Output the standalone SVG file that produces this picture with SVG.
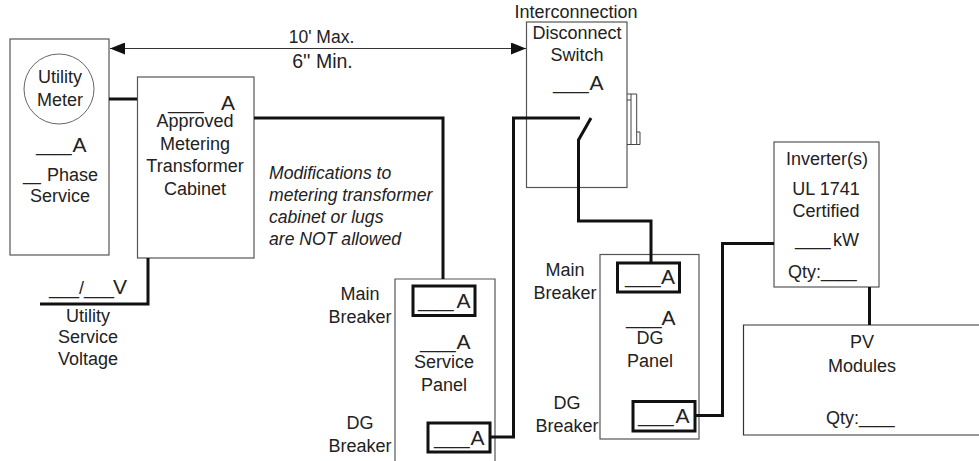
<svg xmlns="http://www.w3.org/2000/svg" width="979" height="461" viewBox="0 0 979 461">
<style>
text{font-family:"Liberation Sans",Arial,sans-serif;font-size:18px;fill:#222;text-anchor:middle}
.l{text-anchor:start}
.a{font-size:21px}
.u{font-size:16px}
.i{font-style:italic;font-size:17.6px;text-anchor:start}
.box{fill:#fff;stroke:#555;stroke-width:1.2}
.brk{fill:none;stroke:#111;stroke-width:3}
.wire{fill:none;stroke:#111;stroke-width:3}
.thin{fill:none;stroke:#444;stroke-width:1}
</style>
<defs>
<marker id="ah" markerWidth="15" markerHeight="12" refX="15" refY="6" orient="auto-start-reverse" markerUnits="userSpaceOnUse"><path d="M0 0L15 6L0 12Z" fill="#111"/></marker>
</defs>
<g id="utility-meter-box">
<rect class="box" x="10" y="39" width="99" height="216"/>
<circle cx="59" cy="89" r="35" fill="#fff" stroke="#666" stroke-width="1"/>
<text x="60" y="83">Utility</text>
<text x="60" y="106">Meter</text>
<text class="l" x="36" y="152"><tspan class="u">____</tspan><tspan class="a" x="72.500">A</tspan></text>
<text class="l" x="23" y="181"><tspan class="u">__</tspan><tspan x="47">Phase</tspan></text>
<text x="60" y="202">Service</text>
</g>
<g id="transformer-cabinet">
<rect class="box" x="137.500" y="77" width="116.500" height="181"/>
<text class="l" x="168" y="110"><tspan class="u">____</tspan><tspan class="a" x="221">A</tspan></text>
<text x="195" y="127">Approved</text>
<text x="195" y="150">Metering</text>
<text x="195" y="172">Transformer</text>
<text x="195" y="195">Cabinet</text>
</g>
<g id="distance-label">
<text x="321.500" y="43" style="font-size:17.500px">10' Max.</text>
<text x="322.500" y="68" style="font-size:19.500px">6'' Min.</text>
</g>
<g id="note">
<text class="i" x="269" y="179">Modifications to</text>
<text class="i" x="269" y="201">metering transformer</text>
<text class="i" x="269" y="223">cabinet or lugs</text>
<text class="i" x="269" y="245">are NOT allowed</text>
</g>
<g id="service-voltage">
<text class="l" x="49" y="294">___/___<tspan class="a" x="113">V</tspan></text>
<text x="88" y="322">Utility</text>
<text x="88" y="343">Service</text>
<text x="88" y="365">Voltage</text>
</g>
<g id="service-panel">
<path class="box" d="M395 461V279H495V461"/>
<rect class="brk" x="413" y="286" width="62" height="29.500"/>
<text class="l" x="418" y="308"><tspan class="u">____</tspan><tspan class="a" x="456.500">A</tspan></text>
<text class="l" x="420" y="349"><tspan class="u">____</tspan><tspan class="a" x="456.500">A</tspan></text>
<text x="444" y="368">Service</text>
<text x="444" y="391">Panel</text>
<rect class="brk" x="428" y="423" width="62" height="29"/>
<text class="l" x="434" y="445"><tspan class="u">____</tspan><tspan class="a" x="470.500">A</tspan></text>
<text x="360" y="300">Main</text>
<text x="360" y="323">Breaker</text>
<text x="360" y="429">DG</text>
<text x="360" y="452">Breaker</text>
</g>
<g id="disconnect-switch">
<rect class="box" x="526.500" y="22" width="100.500" height="165.500"/>
<path class="thin" d="M627 94H636.700V144.500H627M627 100H631M631 94V144.500M636.700 132H640V144.500H636.700"/>
<text x="576" y="18">Interconnection</text>
<text x="577" y="39">Disconnect</text>
<text x="577" y="61">Switch</text>
<text class="l" x="553" y="90"><tspan class="u">____</tspan><tspan class="a" x="589.500">A</tspan></text>
</g>
<g id="dg-panel">
<rect class="box" x="600" y="254.500" width="99" height="184.500"/>
<rect class="brk" x="617.500" y="263" width="62" height="29"/>
<text class="l" x="625" y="284"><tspan class="u">____</tspan><tspan class="a" x="661">A</tspan></text>
<text class="l" x="626" y="325"><tspan class="u">____</tspan><tspan class="a" x="661.500">A</tspan></text>
<text x="650" y="344">DG</text>
<text x="650" y="367">Panel</text>
<rect class="brk" x="633" y="401.500" width="62" height="29.500"/>
<text class="l" x="638" y="423"><tspan class="u">____</tspan><tspan class="a" x="675.500">A</tspan></text>
<text x="565" y="276">Main</text>
<text x="565" y="299">Breaker</text>
<text x="567" y="409">DG</text>
<text x="567" y="432">Breaker</text>
</g>
<g id="inverter">
<rect class="box" x="774" y="142" width="105" height="145"/>
<text x="827" y="165">Inverter(s)</text>
<text x="826" y="195">UL 1741</text>
<text x="826" y="217">Certified</text>
<text class="l" x="795" y="246"><tspan class="u">____</tspan><tspan x="833">kW</tspan></text>
<text class="l" x="788" y="278">Qty:<tspan class="u">____</tspan></text>
</g>
<g id="pv-modules">
<path d="M979 325H743.500V435H979" fill="#fff" stroke="#333" stroke-width="1.200"/>
<text x="862" y="348">PV</text>
<text x="862" y="372">Modules</text>
<text class="l" x="826" y="424">Qty:<tspan class="u">____</tspan></text>
</g>
<g id="connectors">
<path d="M110 48.500H526" fill="none" stroke="#333" stroke-width="1.200" marker-start="url(#ah)" marker-end="url(#ah)"/>
<path class="wire" d="M109 99H137"/>
<path class="wire" d="M254 118H443V279"/>
<path class="wire" d="M148 258V304H40"/>
<path class="wire" d="M491 437H513.500V118H580"/>
<path class="wire" d="M591 118L578.500 140V221H651V263"/>
<path class="wire" d="M696 415.500H722.500V243.500H774"/>
<path class="wire" d="M869.500 287V325"/>
</g>
</svg>
